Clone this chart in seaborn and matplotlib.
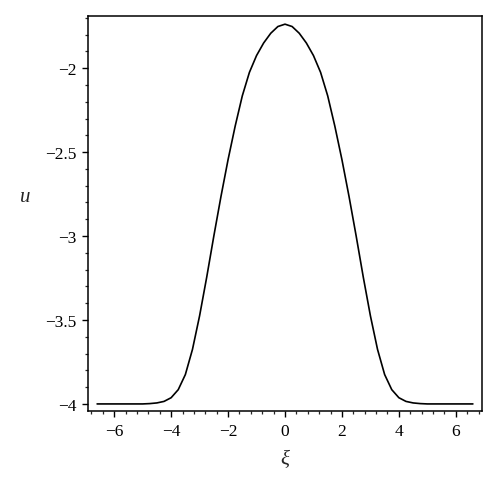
import matplotlib
matplotlib.use("Agg")
import matplotlib.pyplot as plt
from matplotlib.ticker import MultipleLocator
import pandas as pd
import seaborn as sns

# values
xi = [-6.6, -6.0, -5.5, -5.0, -4.75, -4.5, -4.25, -4.0, -3.75, -3.5, -3.25, -3.0,
      -2.75, -2.5, -2.25, -2.0, -1.75, -1.5, -1.25, -1.0, -0.75, -0.5, -0.25, 0.0,
      0.25, 0.5, 0.75, 1.0, 1.25, 1.5, 1.75, 2.0, 2.25, 2.5, 2.75, 3.0,
      3.25, 3.5, 3.75, 4.0, 4.25, 4.5, 4.75, 5.0, 5.5, 6.0, 6.6]
u = [-4.0, -4.0, -4.0, -4.0, -3.998, -3.994, -3.985, -3.963, -3.915, -3.825, -3.675, -3.475,
     -3.245, -3.0, -2.765, -2.545, -2.345, -2.165, -2.025, -1.925, -1.85, -1.792, -1.752, -1.738,
     -1.752, -1.792, -1.85, -1.925, -2.025, -2.165, -2.345, -2.545, -2.765, -3.0, -3.245, -3.475,
     -3.675, -3.825, -3.915, -3.963, -3.985, -3.994, -3.998, -4.0, -4.0, -4.0, -4.0]

xticks = [-6, -4, -2, 0, 2, 4, 6]
xtick_labels = ["\u22126", "\u22124", "\u22122", "0", "2", "4", "6"]
yticks = [-4, -3.5, -3, -2.5, -2]
ytick_labels = ["\u22124", "\u22123.5", "\u22123", "\u22122.5", "\u22122"]

df = pd.DataFrame({"xi": xi, "u": u})

sns.set_style("ticks")
plt.rcParams["font.family"] = ["Liberation Serif", "DejaVu Serif"]

fig = plt.figure(figsize=(5.0, 4.89), dpi=100)
ax = fig.add_axes([0.176, 0.1575, 0.788, 0.8075])

sns.lineplot(data=df, x="xi", y="u", color="black", linewidth=1.2, ax=ax)

ax.set_xlim(-6.92, 6.92)
ax.set_ylim(-4.042, -1.69)
ax.set_xticks(xticks, xtick_labels)
ax.set_yticks(yticks, ytick_labels)
ax.xaxis.set_minor_locator(MultipleLocator(0.4))
ax.yaxis.set_minor_locator(MultipleLocator(0.1))

ax.tick_params(which="major", direction="out", length=4.5, width=1.0, labelsize=12.5, pad=4,
               colors="black", top=False, right=False)
ax.tick_params(which="minor", direction="out", length=2.2, width=0.9, top=False, right=False)

for s in ax.spines.values():
    s.set_visible(True)
    s.set_linewidth(1.1)
    s.set_color("black")

ax.set_xlabel("\u03be", fontsize=15, style="italic", labelpad=8)
ax.set_ylabel("u", fontsize=15, style="italic", rotation=0)
ax.yaxis.set_label_coords(-0.16, 0.52)

fig.savefig("out.png", dpi=100)
